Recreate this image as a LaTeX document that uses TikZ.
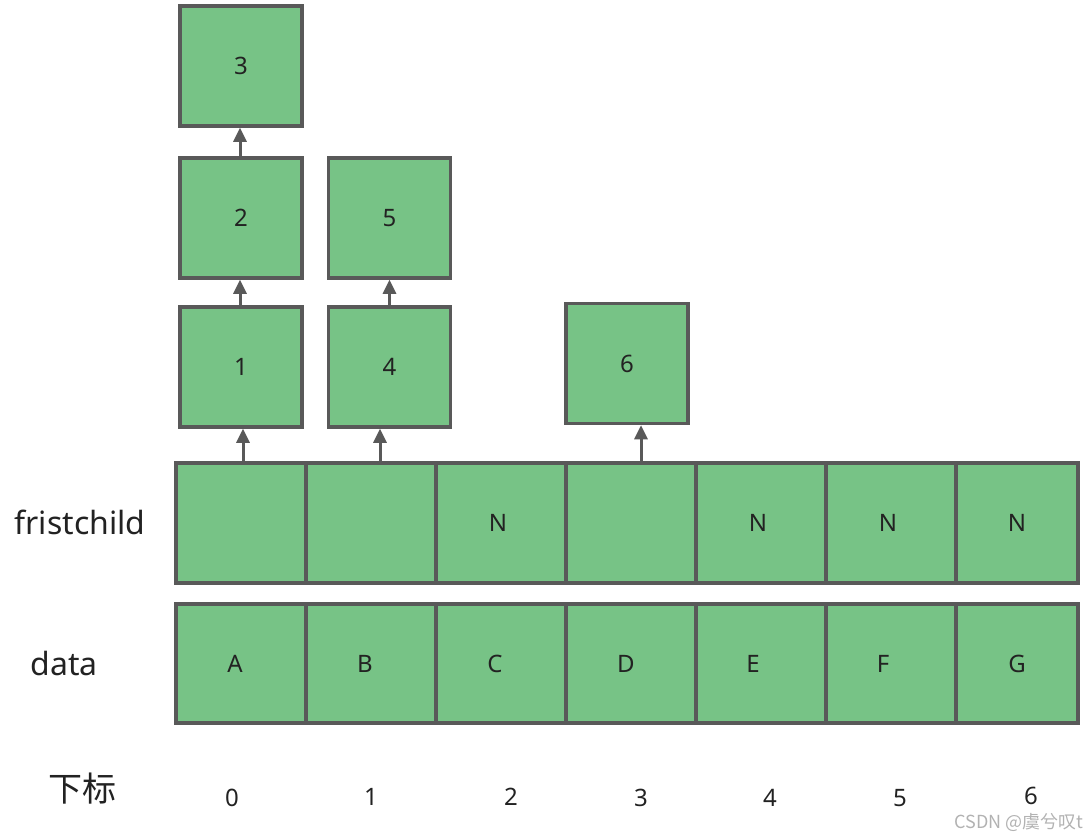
\documentclass[tikz,border=0pt]{standalone}
\usepackage{fontspec}
\setmainfont{Noto Sans}
\newfontfamily\cjk{Noto Sans CJK SC}
\usetikzlibrary{arrows.meta}
\definecolor{cellgreen}{HTML}{77C386}
\definecolor{edgegray}{HTML}{595959}
\definecolor{txt}{HTML}{222222}
\begin{document}
\begin{tikzpicture}[x=1pt,y=-1pt,
  cellbox/.style={draw=edgegray, fill=cellgreen, line width=3.5pt, inner sep=0pt,
    minimum width=130pt, minimum height=120pt, font=\fontsize{24}{24}\selectfont, text=txt},
  stackbox/.style={cellbox, minimum width=122pt, minimum height=120pt},
  arr/.style={draw=edgegray, line width=3pt, -{Triangle[width=13pt,length=14pt]}},
  rowlabel/.style={font=\fontsize{32}{32}\selectfont, text=txt},
  idx/.style={font=\fontsize{24}{24}\selectfont, text=txt}]
\useasboundingbox (0,0) rectangle (1089,835);
% fristchild row
\node[cellbox] (c0) at (241,523) {};
\node[cellbox] (c1) at (371,523) {};
\node[cellbox] (c2) at (501,523) {\hspace*{-6pt}N};
\node[cellbox] (c3) at (631,523) {};
\node[cellbox] (c4) at (761,523) {\hspace*{-6pt}N};
\node[cellbox] (c5) at (891,523) {\hspace*{-6pt}N};
\node[cellbox, minimum width=122pt] (c6) at (1017,523) {N};
% data row
\node[cellbox, minimum height=119pt] (d0) at (241,663.5) {\hspace*{-12pt}A};
\node[cellbox, minimum height=119pt] (d1) at (371,663.5) {\hspace*{-12pt}B};
\node[cellbox, minimum height=119pt] (d2) at (501,663.5) {\hspace*{-12pt}C};
\node[cellbox, minimum height=119pt] (d3) at (631,663.5) {\hspace*{-10pt}D};
\node[cellbox, minimum height=119pt] (d4) at (761,663.5) {\hspace*{-16pt}E};
\node[cellbox, minimum height=119pt] (d5) at (891,663.5) {\hspace*{-16pt}F};
\node[cellbox, minimum height=119pt, minimum width=122pt] (d6) at (1017,663.5) {G};
% stacked boxes
\node[stackbox] (b1) at (241,367) {1};
\node[stackbox] (b2) at (241,218) {2};
\node[stackbox] (b3) at (241,66) {3};
\node[stackbox] (b4) at (389.5,367) {4};
\node[stackbox] (b5) at (389.5,218) {5};
\node[stackbox] (b6) at (627,363.5) {6};
% arrows
\draw[arr] ([xshift=2pt]b1.south |- c0.north) -- ([xshift=2pt]b1.south);
\draw[arr] ([xshift=-1pt]b2.south |- b1.north) -- ([xshift=-1pt]b2.south);
\draw[arr] ([xshift=-1pt]b3.south |- b2.north) -- ([xshift=-1pt]b3.south);
\draw[arr] ([xshift=-9.5pt]b4.south |- c1.north) -- ([xshift=-9.5pt]b4.south);
\draw[arr] (b5.south |- b4.north) -- (b5.south);
\draw[arr] ([xshift=14pt]b6.south |- c3.north) -- ([xshift=14pt]b6.south);
% row labels
\node[rowlabel] (lf) at (80,522) {fristchild};
\node[rowlabel] (ld) at (64,663) {data};
\node[rowlabel, font=\cjk\fontsize{34}{34}\selectfont] (li) at (82,789) {下标};
% indices
\node[idx] (i0) at (232,798) {0};
\node[idx] (i1) at (371,797) {1};
\node[idx] (i2) at (511,797) {2};
\node[idx] (i3) at (641,798) {3};
\node[idx] (i4) at (770,798) {4};
\node[idx] (i5) at (900,798) {5};
\node[idx] (i6) at (1031,796) {6};
% watermark
\node[font=\cjk\fontsize{18}{18}\selectfont, text=black!30, anchor=east] (wm) at (1087,822) {CSDN @虞兮叹t};
\end{tikzpicture}
\end{document}
